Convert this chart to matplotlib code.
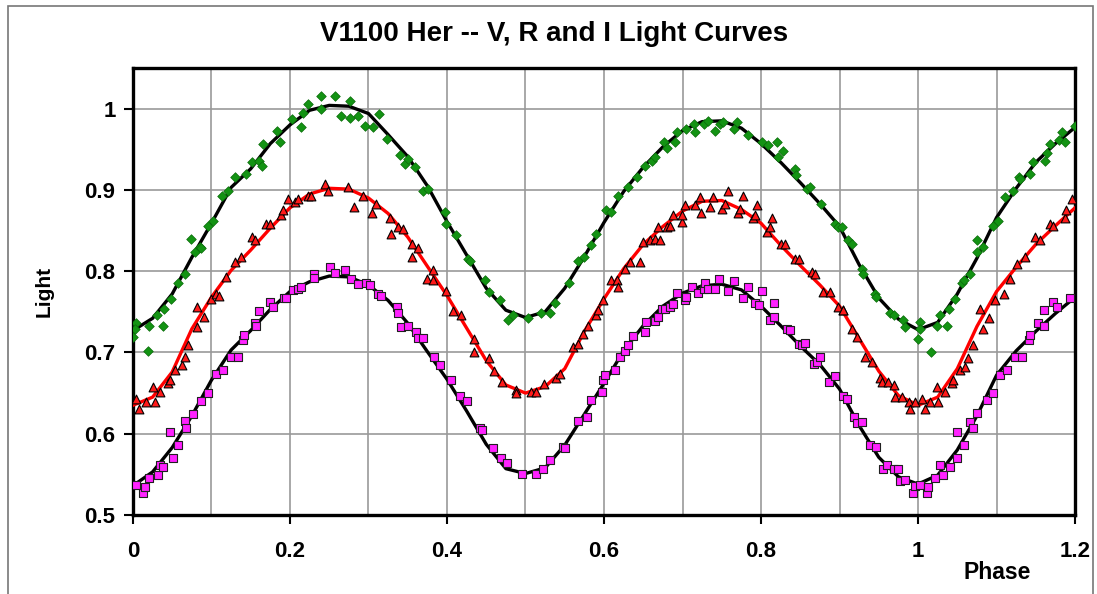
import matplotlib
matplotlib.use("Agg")
import matplotlib.pyplot as plt
from matplotlib.patches import Rectangle

plt.rcParams["font.family"] = ["Liberation Sans", "DejaVu Sans"]
plt.rcParams["font.weight"] = "bold"

# fitted curves (phase grid and values)
curve_phase = [0.0, 0.025, 0.05, 0.075, 0.1, 0.125, 0.15, 0.175, 0.2, 0.225,
               0.25, 0.275, 0.3, 0.325, 0.35, 0.375, 0.4, 0.425, 0.45, 0.475,
               0.5, 0.525, 0.55, 0.575, 0.6, 0.625, 0.65, 0.675, 0.7, 0.725,
               0.75, 0.775, 0.8, 0.825, 0.85, 0.875, 0.9, 0.925, 0.95, 0.975,
               1.0, 1.025, 1.05, 1.075, 1.1, 1.125, 1.15, 1.175, 1.2]
v_fit = [0.727, 0.742, 0.772, 0.817, 0.859, 0.903, 0.926, 0.957, 0.980, 0.998,
         1.004, 1.003, 0.994, 0.968, 0.941, 0.905, 0.861, 0.820, 0.779, 0.752,
         0.743, 0.750, 0.779, 0.818, 0.860, 0.898, 0.928, 0.953, 0.973, 0.984,
         0.985, 0.976, 0.957, 0.934, 0.909, 0.883, 0.855, 0.808, 0.767, 0.741,
         0.728, 0.737, 0.772, 0.816, 0.866, 0.902, 0.934, 0.957, 0.977]
r_fit = [0.635, 0.645, 0.676, 0.729, 0.768, 0.801, 0.826, 0.853, 0.878, 0.895,
         0.902, 0.901, 0.890, 0.871, 0.842, 0.806, 0.770, 0.730, 0.690, 0.660,
         0.650, 0.658, 0.680, 0.726, 0.766, 0.803, 0.833, 0.855, 0.874, 0.886,
         0.887, 0.876, 0.859, 0.832, 0.807, 0.783, 0.757, 0.717, 0.677, 0.647,
         0.635, 0.645, 0.680, 0.732, 0.775, 0.805, 0.833, 0.856, 0.878]
i_fit = [0.536, 0.553, 0.583, 0.622, 0.666, 0.703, 0.727, 0.753, 0.775, 0.787,
         0.794, 0.793, 0.783, 0.764, 0.736, 0.701, 0.667, 0.628, 0.587, 0.557,
         0.551, 0.558, 0.586, 0.624, 0.662, 0.702, 0.733, 0.757, 0.773, 0.782,
         0.784, 0.777, 0.757, 0.733, 0.708, 0.685, 0.655, 0.610, 0.571, 0.547,
         0.538, 0.549, 0.580, 0.622, 0.672, 0.702, 0.726, 0.748, 0.768]

# V observations
v_phase = [0.000, 0.004, 0.002, 0.019, 0.021, 0.030, 0.038, 0.040, 0.049, 0.057,
           0.066, 0.074, 0.079, 0.085, 0.087, 0.096, 0.102, 0.113, 0.121, 0.130,
           0.144, 0.151, 0.161, 0.164, 0.166, 0.183, 0.187, 0.202, 0.214, 0.217,
           0.223, 0.240, 0.240, 0.257, 0.265, 0.276, 0.276, 0.287, 0.295, 0.306,
           0.314, 0.323, 0.340, 0.346, 0.350, 0.359, 0.369, 0.376, 0.397, 0.399,
           0.412, 0.427, 0.429, 0.448, 0.454, 0.467, 0.478, 0.484, 0.503, 0.520,
           0.531, 0.537, 0.556, 0.567, 0.575, 0.584, 0.590, 0.603, 0.609,
           0.618, 0.631, 0.642, 0.652, 0.661, 0.665, 0.676, 0.680, 0.690, 0.693,
           0.705, 0.714, 0.716, 0.727, 0.733, 0.741, 0.748, 0.752, 0.765, 0.769,
           0.784, 0.801, 0.809, 0.820, 0.822, 0.828, 0.843, 0.845, 0.858, 0.862,
           0.877, 0.894, 0.898, 0.903, 0.911, 0.916, 0.928, 0.930, 0.945, 0.947,
           0.964, 0.969, 0.981, 0.983, 1.003, 1.003, 1.000, 1.017, 1.024, 1.028,
           1.037, 1.039, 1.047, 1.056, 1.058, 1.066, 1.075, 1.075, 1.083, 1.096,
           1.102, 1.111, 1.121, 1.128, 1.130, 1.143, 1.147, 1.162, 1.164, 1.168,
           1.179, 1.183, 1.187, 1.200]
v_light = [0.719, 0.736, 0.729, 0.702, 0.733, 0.746, 0.733, 0.754, 0.766, 0.785,
           0.797, 0.839, 0.823, 0.830, 0.828, 0.856, 0.862, 0.892, 0.899, 0.916,
           0.919, 0.934, 0.936, 0.930, 0.957, 0.973, 0.959, 0.987, 0.977, 0.995,
           1.006, 1.016, 1.000, 1.016, 0.991, 1.010, 0.989, 0.991, 0.979, 0.977,
           0.993, 0.963, 0.943, 0.932, 0.938, 0.928, 0.899, 0.901, 0.873, 0.858,
           0.845, 0.815, 0.813, 0.789, 0.774, 0.764, 0.740, 0.746, 0.743, 0.748,
           0.748, 0.761, 0.785, 0.813, 0.817, 0.832, 0.846, 0.875, 0.873,
           0.893, 0.903, 0.916, 0.930, 0.936, 0.940, 0.959, 0.952, 0.959, 0.971,
           0.975, 0.981, 0.971, 0.981, 0.985, 0.973, 0.981, 0.983, 0.975, 0.983,
           0.967, 0.959, 0.955, 0.959, 0.940, 0.948, 0.926, 0.918, 0.901, 0.903,
           0.883, 0.858, 0.854, 0.854, 0.838, 0.834, 0.803, 0.797, 0.772, 0.768,
           0.748, 0.746, 0.740, 0.731, 0.737, 0.729, 0.717, 0.701, 0.733, 0.746,
           0.733, 0.754, 0.766, 0.785, 0.789, 0.797, 0.823, 0.838, 0.830, 0.856,
           0.862, 0.891, 0.899, 0.916, 0.914, 0.920, 0.934, 0.936, 0.946, 0.957,
           0.961, 0.971, 0.959, 0.979]

# R observations
r_phase = [0.004, 0.008, 0.017, 0.025, 0.028, 0.034, 0.045, 0.047, 0.053, 0.062,
           0.066, 0.070, 0.081, 0.081, 0.091, 0.100, 0.106, 0.110, 0.119, 0.130,
           0.138, 0.151, 0.155, 0.170, 0.174, 0.189, 0.191, 0.198, 0.206, 0.210,
           0.223, 0.227, 0.244, 0.248, 0.274, 0.282, 0.293, 0.304,
           0.310, 0.327, 0.329, 0.338, 0.344, 0.355, 0.355, 0.363, 0.374, 0.382,
           0.382, 0.399, 0.408, 0.418, 0.434, 0.435, 0.453, 0.460, 0.470, 0.488,
           0.488, 0.507, 0.514, 0.524, 0.539, 0.544, 0.561, 0.567, 0.573, 0.580,
           0.590, 0.592, 0.599, 0.609,
           0.616, 0.618, 0.627, 0.633, 0.646, 0.650, 0.659, 0.665, 0.669, 0.671,
           0.680, 0.684, 0.688, 0.699, 0.699, 0.703, 0.716, 0.722, 0.724, 0.735,
           0.739, 0.750, 0.754, 0.758, 0.771, 0.773, 0.777, 0.790, 0.792, 0.795,
           0.807, 0.811, 0.814, 0.826, 0.831, 0.843, 0.848, 0.865, 0.869, 0.879,
           0.888, 0.898, 0.905,
           0.905, 0.916, 0.922, 0.932, 0.941, 0.952, 0.954, 0.962, 0.969, 0.971,
           0.979, 0.988, 0.990, 0.996, 1.005, 1.009, 1.015, 1.024, 1.026, 1.034,
           1.043, 1.045, 1.054, 1.060, 1.064, 1.070, 1.079, 1.083, 1.090, 1.098,
           1.109, 1.117, 1.126, 1.136, 1.149, 1.155, 1.168, 1.172, 1.187, 1.189,
           1.196]
r_light = [0.643, 0.631, 0.639, 0.658, 0.639, 0.651, 0.662, 0.666, 0.678, 0.684,
           0.694, 0.709, 0.756, 0.731, 0.744, 0.766, 0.772, 0.770, 0.793, 0.811,
           0.817, 0.842, 0.838, 0.858, 0.858, 0.869, 0.875, 0.889, 0.885, 0.889,
           0.893, 0.893, 0.907, 0.899, 0.903, 0.879, 0.893, 0.871,
           0.883, 0.866, 0.846, 0.854, 0.852, 0.834, 0.817, 0.828, 0.791, 0.801,
           0.789, 0.776, 0.751, 0.746, 0.717, 0.701, 0.693, 0.677, 0.664, 0.654,
           0.650, 0.651, 0.651, 0.661, 0.669, 0.674, 0.707, 0.711, 0.723, 0.733,
           0.746, 0.752, 0.764, 0.789,
           0.789, 0.780, 0.803, 0.811, 0.811, 0.836, 0.838, 0.840, 0.854, 0.838,
           0.854, 0.856, 0.869, 0.861, 0.869, 0.881, 0.881, 0.891, 0.871, 0.879,
           0.891, 0.877, 0.883, 0.899, 0.871, 0.877, 0.893, 0.865, 0.869, 0.881,
           0.848, 0.854, 0.865, 0.834, 0.834, 0.815, 0.815, 0.799, 0.797, 0.774,
           0.774, 0.756, 0.752,
           0.752, 0.729, 0.719, 0.694, 0.688, 0.668, 0.664, 0.664, 0.660, 0.645,
           0.645, 0.639, 0.631, 0.639, 0.643, 0.631, 0.639, 0.658, 0.639, 0.651,
           0.662, 0.666, 0.678, 0.682, 0.693, 0.709, 0.754, 0.729, 0.742, 0.764,
           0.772, 0.791, 0.809, 0.817, 0.842, 0.838, 0.858, 0.856, 0.866, 0.875,
           0.889]

# I observations
i_phase = [0.004, 0.013, 0.015, 0.021, 0.032, 0.034, 0.038, 0.047, 0.051, 0.057,
           0.066, 0.068, 0.076, 0.087, 0.096, 0.106, 0.115, 0.125, 0.134, 0.140,
           0.142, 0.155, 0.157, 0.161, 0.174, 0.178, 0.193, 0.195, 0.204, 0.210,
           0.214, 0.231, 0.231, 0.251, 0.257, 0.270, 0.278, 0.287, 0.297,
           0.302, 0.312, 0.316, 0.336, 0.338, 0.342, 0.350, 0.361, 0.363, 0.369,
           0.384, 0.391, 0.405, 0.416, 0.425, 0.442, 0.444, 0.459, 0.469, 0.476,
           0.495, 0.514, 0.522, 0.531, 0.548, 0.550, 0.567, 0.578, 0.584, 0.597,
           0.599, 0.601,
           0.614, 0.620, 0.627, 0.631, 0.637, 0.652, 0.654, 0.665, 0.669, 0.674,
           0.678, 0.684, 0.688, 0.693, 0.703, 0.705, 0.712, 0.720, 0.727, 0.729,
           0.733, 0.741, 0.746, 0.758, 0.765, 0.777, 0.784, 0.792, 0.797, 0.801,
           0.811, 0.816, 0.816, 0.833, 0.837, 0.848, 0.852, 0.856, 0.867, 0.871,
           0.875, 0.886, 0.894,
           0.905, 0.909, 0.918, 0.922, 0.928, 0.939, 0.947, 0.956, 0.960, 0.969,
           0.975, 0.977, 0.983, 0.994, 0.996, 1.003, 1.011, 1.013, 1.022, 1.028,
           1.032, 1.041, 1.049, 1.049, 1.058, 1.066, 1.070, 1.075, 1.088, 1.096,
           1.104, 1.113, 1.124, 1.132, 1.141, 1.143, 1.153, 1.160, 1.160, 1.172,
           1.177, 1.194]
i_light = [0.537, 0.527, 0.534, 0.545, 0.549, 0.561, 0.559, 0.602, 0.570, 0.586,
           0.616, 0.607, 0.624, 0.640, 0.650, 0.673, 0.679, 0.694, 0.694, 0.715,
           0.721, 0.736, 0.732, 0.751, 0.762, 0.756, 0.767, 0.767, 0.777, 0.778,
           0.781, 0.797, 0.792, 0.805, 0.798, 0.802, 0.791, 0.784, 0.785,
           0.783, 0.772, 0.769, 0.756, 0.748, 0.731, 0.733, 0.725, 0.718, 0.718,
           0.694, 0.684, 0.666, 0.647, 0.640, 0.607, 0.604, 0.582, 0.570, 0.564,
           0.551, 0.551, 0.556, 0.568, 0.584, 0.582, 0.616, 0.621, 0.642, 0.651,
           0.666, 0.672,
           0.678, 0.694, 0.702, 0.709, 0.720, 0.725, 0.737, 0.739, 0.744, 0.754,
           0.753, 0.756, 0.760, 0.773, 0.764, 0.768, 0.780, 0.773, 0.778, 0.785,
           0.778, 0.778, 0.791, 0.776, 0.788, 0.767, 0.781, 0.761, 0.759, 0.776,
           0.740, 0.744, 0.761, 0.729, 0.728, 0.711, 0.709, 0.712, 0.686, 0.688,
           0.694, 0.664, 0.671,
           0.647, 0.643, 0.621, 0.613, 0.615, 0.586, 0.584, 0.557, 0.561, 0.557,
           0.557, 0.542, 0.543, 0.527, 0.536, 0.537, 0.527, 0.534, 0.545, 0.561,
           0.549, 0.559, 0.570, 0.602, 0.586, 0.615, 0.607, 0.625, 0.641, 0.650,
           0.672, 0.679, 0.694, 0.694, 0.715, 0.721, 0.736, 0.732, 0.752, 0.762,
           0.756, 0.767]

x_ticks = [0, 0.2, 0.4, 0.6, 0.8, 1, 1.2]
x_tick_labels = ["0", "0.2", "0.4", "0.6", "0.8", "1", "1.2"]
y_ticks = [0.5, 0.6, 0.7, 0.8, 0.9, 1.0]
y_tick_labels = ["0.5", "0.6", "0.7", "0.8", "0.9", "1"]

fig = plt.figure(figsize=(10.97, 5.94), dpi=100)
ax = fig.add_axes([0.1212, 0.133, 0.8588, 0.7525])

ax.plot(curve_phase, v_fit, color="black", lw=2.4, zorder=3)
ax.plot(curve_phase, r_fit, color="#ff0000", lw=2.4, zorder=3)
ax.plot(curve_phase, i_fit, color="black", lw=2.4, zorder=3)

ax.scatter(v_phase, v_light, marker="D", s=24, color="#139313",
           edgecolors="#0a6a0a", linewidths=0.5, zorder=4)
ax.scatter(r_phase, r_light, marker="^", s=40, color="#ff1a1a",
           edgecolors="black", linewidths=0.8, zorder=4)
ax.scatter(i_phase, i_light, marker="s", s=27, color="#ff22ff",
           edgecolors="#202020", linewidths=0.8, zorder=4)

ax.set_xlim(0, 1.2)
ax.set_ylim(0.5, 1.05)
ax.set_xticks(x_ticks)
ax.set_xticklabels(x_tick_labels)
ax.set_yticks(y_ticks)
ax.set_yticklabels(y_tick_labels)
ax.set_xticks([0.1, 0.3, 0.5, 0.7, 0.9, 1.1], minor=True)
ax.grid(True, which="both", color="#999999", lw=1.2, zorder=0)
ax.set_axisbelow(True)
ax.tick_params(axis="both", which="major", direction="out", length=6.5,
               width=1.5, labelsize=16, pad=6)
ax.tick_params(axis="x", which="major", pad=12)
ax.tick_params(axis="x", which="minor", length=0)
for sp in ax.spines.values():
    sp.set_linewidth(2.4)
    sp.set_color("black")

ax.set_ylabel("Light", fontsize=15, fontweight="bold", labelpad=22)
fig.text(0.909, 0.037, "Phase", fontsize=16.5, fontweight="bold",
         ha="center", va="center")
fig.text(0.505, 0.943, "V1100 Her -- V, R and I Light Curves", fontsize=20,
         fontweight="bold", ha="center", va="center")

fig.patches.append(Rectangle((8 / 1097, -0.05), 1085 / 1097, 1.04,
                             transform=fig.transFigure, fill=False,
                             edgecolor="#777777", lw=1.2))

fig.savefig("out.png", dpi=100)
